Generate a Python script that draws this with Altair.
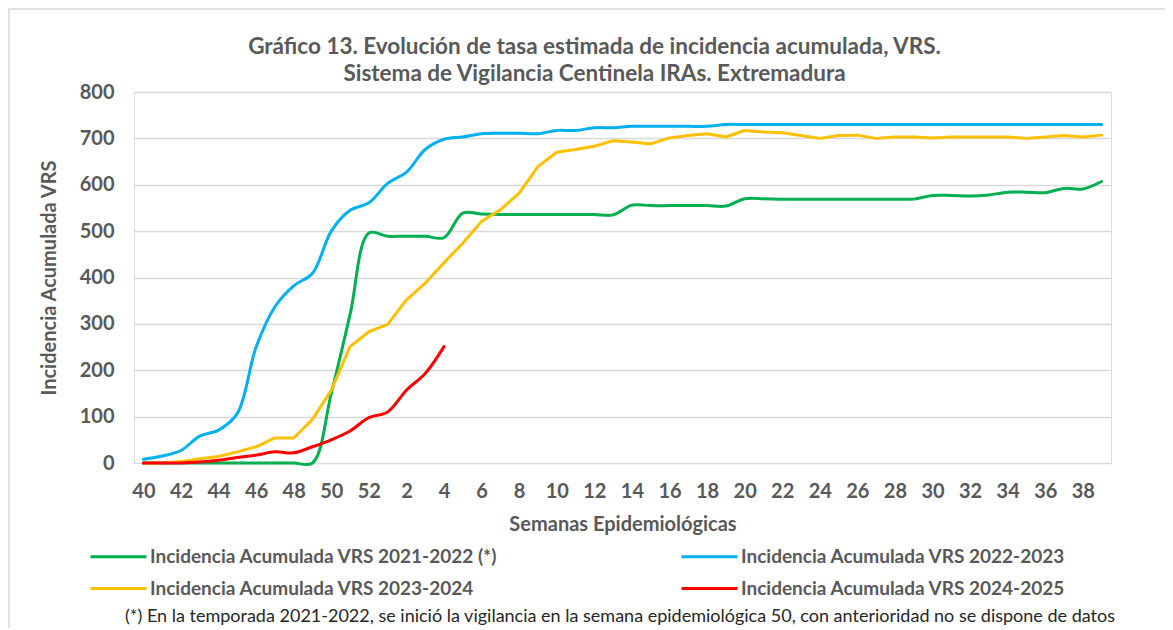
import altair as alt
import pandas as pd

weeks = [str(w) for w in list(range(40, 53)) + list(range(1, 40))]
tick_weeks = [str(w) for w in list(range(40, 53, 2)) + list(range(2, 39, 2))]

series_names = [
    "Incidencia Acumulada VRS 2021-2022 (*)",
    "Incidencia Acumulada VRS 2022-2023",
    "Incidencia Acumulada VRS 2023-2024",
    "Incidencia Acumulada VRS 2024-2025",
]
series_colors = ["#00B050", "#00B0F0", "#FFC000", "#FF0000"]

vrs_2021_2022 = [0, 0, 0, 0, 0, 0, 0, 0, 0, 0, 150, 320, 496,
                 489, 489, 489, 486, 539, 537, 536, 536, 536, 536, 536, 536, 535,
                 556, 555, 555, 555, 555, 554, 570, 570, 569, 569, 569, 569, 569,
                 569, 569, 569, 577, 577, 576, 578, 584, 584, 583, 592, 591, 607]
vrs_2022_2023 = [8, 15, 27, 58, 71, 107, 250, 337, 382, 409, 500, 545, 561,
                 603, 627, 676, 698, 703, 710, 711, 711, 710, 717, 717, 723, 723,
                 726, 726, 726, 726, 726, 730, 730, 730, 730, 730, 730, 730, 730,
                 730, 730, 730, 730, 730, 730, 730, 730, 730, 730, 730, 730, 730]
vrs_2023_2024 = [0, 0, 3, 9, 14, 24, 35, 54, 54, 94, 157, 251, 283,
                 299, 352, 388, 432, 474, 521, 546, 582, 639, 670, 676, 683, 695,
                 692, 688, 701, 706, 710, 703, 717, 714, 712, 706, 700, 706, 707,
                 700, 703, 703, 701, 703, 703, 703, 703, 700, 703, 706, 703, 707]
vrs_2024_2025 = [0, 0, 0, 2, 6, 12, 17, 24, 22, 35, 50, 69, 98,
                 110, 157, 193, 251]

all_series = [vrs_2021_2022, vrs_2022_2023, vrs_2023_2024, vrs_2024_2025]

rows = []
for name, vals in zip(series_names, all_series):
    for i, v in enumerate(vals):
        rows.append({"semana": weeks[i], "idx": i, "valor": v, "serie": name})
df = pd.DataFrame(rows)

GRAY = "#595959"
FONT = "Lato"
W, H = 977, 371

color = alt.Color(
    "serie:N",
    scale=alt.Scale(domain=series_names, range=series_colors),
    legend=alt.Legend(
        title=None, orient="none", legendX=-45, legendY=455, columns=2,
        direction="horizontal",
        symbolType="M-1,0H6", symbolSize=256, symbolStrokeWidth=3,
        labelFont=FONT, labelFontSize=19, labelFontWeight="bold", labelColor=GRAY,
        labelLimit=600, labelOffset=42, columnPadding=177, rowPadding=12,
    ),
)

x = alt.X(
    "semana:O", sort=weeks,
    scale=alt.Scale(domain=weeks, type="point", padding=0.5),
    axis=alt.Axis(values=tick_weeks, labelAngle=0, domain=False, ticks=False, grid=False,
                  labelFont=FONT, labelFontSize=20, labelFontWeight="bold", labelColor=GRAY,
                  labelPadding=18, title="Semanas Epidemiológicas", titleFont=FONT,
                  titleFontSize=20, titleFontWeight="bold", titleColor=GRAY, titlePadding=13),
)
y = alt.Y(
    "valor:Q",
    scale=alt.Scale(domain=[0, 800], nice=False),
    axis=alt.Axis(values=list(range(0, 801, 100)), domain=False, ticks=False,
                  gridColor="#D9D9D9", gridWidth=1.5,
                  labelFont=FONT, labelFontSize=20, labelFontWeight="bold", labelColor=GRAY,
                  labelPadding=20, title="Incidencia Acumulada VRS", titleFont=FONT,
                  titleFontSize=20, titleFontWeight="bold", titleColor=GRAY, titlePadding=20),
)

base = alt.Chart(df)


def series_layer(name, interp):
    return base.transform_filter(alt.datum.serie == name).mark_line(
        strokeWidth=3, interpolate=interp, strokeCap="round", strokeJoin="round"
    ).encode(x=x, y=y, color=color, order=alt.Order("idx:Q"))


frame = alt.Chart(alt.Data(values=[{}])).mark_rect(
    fill=None, stroke="#D9D9D9", strokeWidth=1.5
).encode(x=alt.value(-125), x2=alt.value(W + 120), y=alt.value(-83), y2=alt.value(H + 200))

note = alt.Chart(alt.Data(values=[{}])).mark_text(
    font=FONT, fontSize=18, color="#262626", align="center", baseline="middle"
).encode(
    x=alt.value(486), y=alt.value(525),
    text=alt.value("(*) En la temporada 2021-2022, se inició la vigilancia en la semana epidemiológica 50, con anterioridad no se dispone de datos"),
)

chart = alt.layer(
    frame,
    series_layer(series_names[0], "catmull-rom"),
    series_layer(series_names[1], "catmull-rom"),
    series_layer(series_names[2], "linear"),
    series_layer(series_names[3], "catmull-rom"),
    note,
).properties(
    width=W, height=H,
    padding={"left": 126, "top": 84, "right": 54, "bottom": 165},
    autosize=alt.AutoSizeParams(type="none"),
    title=alt.TitleParams(
        text=["Gráfico 13. Evolución de tasa estimada de incidencia acumulada, VRS.",
              "Sistema de Vigilancia Centinela IRAs. Extremadura"],
        anchor="middle", dx=-28, offset=0, dy=77, font=FONT, fontSize=22.5, fontWeight="bold",
        color=GRAY, lineHeight=27,
    ),
).configure_view(stroke=None).configure(background="white")

chart.save("out.html", embed_options={"renderer": "svg", "actions": False})
